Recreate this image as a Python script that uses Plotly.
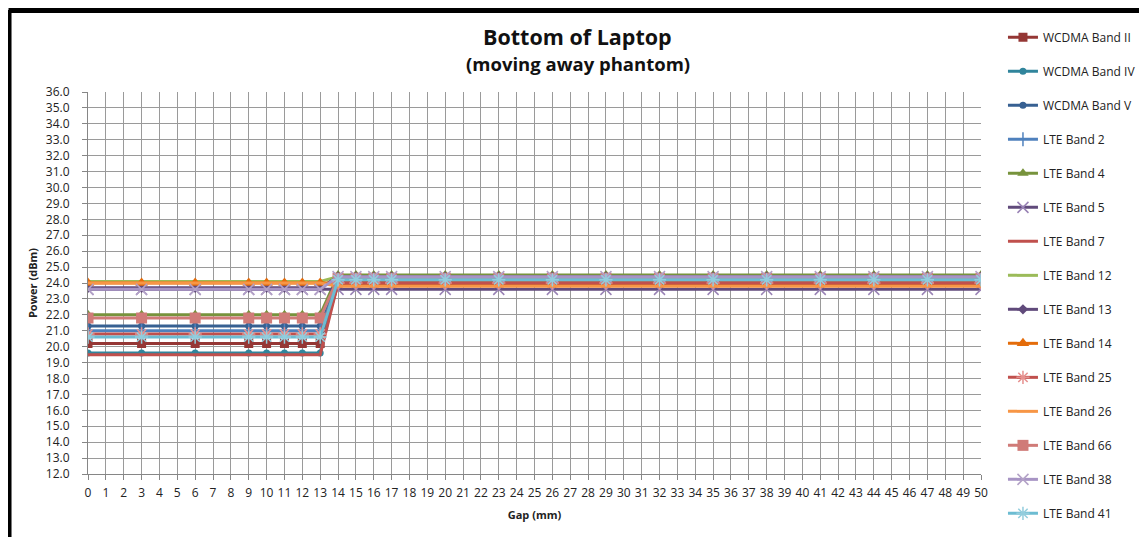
import plotly.graph_objects as go

gap = [0, 3, 6, 9, 10, 11, 12, 13, 14, 15, 16, 17, 20, 23, 26, 29, 32, 35, 38, 41, 44, 47, 50]

wcdma_b2 = [20.2, 20.2, 20.2, 20.2, 20.2, 20.2, 20.2, 20.2, 23.9, 23.9, 23.9, 23.9, 23.9, 23.9, 23.9, 23.9, 23.9, 23.9, 23.9, 23.9, 23.9, 23.9, 23.9]
wcdma_b4 = [19.6, 19.6, 19.6, 19.6, 19.6, 19.6, 19.6, 19.6, 24.2, 24.2, 24.2, 24.2, 24.2, 24.2, 24.2, 24.2, 24.2, 24.2, 24.2, 24.2, 24.2, 24.2, 24.2]
wcdma_b5 = [21.3, 21.3, 21.3, 21.3, 21.3, 21.3, 21.3, 21.3, 24.1, 24.1, 24.1, 24.1, 24.1, 24.1, 24.1, 24.1, 24.1, 24.1, 24.1, 24.1, 24.1, 24.1, 24.1]
lte_b2 = [21.0, 21.0, 21.0, 21.0, 21.0, 21.0, 21.0, 21.0, 24.1, 24.1, 24.1, 24.1, 24.1, 24.1, 24.1, 24.1, 24.1, 24.1, 24.1, 24.1, 24.1, 24.1, 24.1]
lte_b4 = [22.0, 22.0, 22.0, 22.0, 22.0, 22.0, 22.0, 22.0, 24.5, 24.5, 24.5, 24.5, 24.5, 24.5, 24.5, 24.5, 24.5, 24.5, 24.5, 24.5, 24.5, 24.5, 24.5]
lte_b5 = [23.6, 23.6, 23.6, 23.6, 23.6, 23.6, 23.6, 23.6, 23.6, 23.6, 23.6, 23.6, 23.6, 23.6, 23.6, 23.6, 23.6, 23.6, 23.6, 23.6, 23.6, 23.6, 23.6]
lte_b7 = [19.5, 19.5, 19.5, 19.5, 19.5, 19.5, 19.5, 19.5, 24.0, 24.0, 24.0, 24.0, 24.0, 24.0, 24.0, 24.0, 24.0, 24.0, 24.0, 24.0, 24.0, 24.0, 24.0]
lte_b12 = [24.1, 24.1, 24.1, 24.1, 24.1, 24.1, 24.1, 24.1, 24.4, 24.4, 24.4, 24.4, 24.4, 24.4, 24.4, 24.4, 24.4, 24.4, 24.4, 24.4, 24.4, 24.4, 24.4]
lte_b13 = [23.7, 23.7, 23.7, 23.7, 23.7, 23.7, 23.7, 23.7, 24.4, 24.4, 24.4, 24.4, 24.4, 24.4, 24.4, 24.4, 24.4, 24.4, 24.4, 24.4, 24.4, 24.4, 24.4]
lte_b14 = [24.0, 24.0, 24.0, 24.0, 24.0, 24.0, 24.0, 24.0, 24.0, 24.0, 24.0, 24.0, 24.0, 24.0, 24.0, 24.0, 24.0, 24.0, 24.0, 24.0, 24.0, 24.0, 24.0]
lte_b25 = [20.8, 20.8, 20.8, 20.8, 20.8, 20.8, 20.8, 20.8, 24.0, 24.0, 24.0, 24.0, 24.0, 24.0, 24.0, 24.0, 24.0, 24.0, 24.0, 24.0, 24.0, 24.0, 24.0]
lte_b26 = [24.0, 24.0, 24.0, 24.0, 24.0, 24.0, 24.0, 24.0, 23.8, 23.8, 23.8, 23.8, 23.8, 23.8, 23.8, 23.8, 23.8, 23.8, 23.8, 23.8, 23.8, 23.8, 23.8]
lte_b66 = [21.8, 21.8, 21.8, 21.8, 21.8, 21.8, 21.8, 21.8, 24.3, 24.3, 24.3, 24.3, 24.3, 24.3, 24.3, 24.3, 24.3, 24.3, 24.3, 24.3, 24.3, 24.3, 24.3]
lte_b38 = [23.6, 23.6, 23.6, 23.6, 23.6, 23.6, 23.6, 23.6, 24.4, 24.4, 24.4, 24.4, 24.4, 24.4, 24.4, 24.4, 24.4, 24.4, 24.4, 24.4, 24.4, 24.4, 24.4]
lte_b41 = [20.6, 20.6, 20.6, 20.6, 20.6, 20.6, 20.6, 20.6, 24.2, 24.2, 24.2, 24.2, 24.2, 24.2, 24.2, 24.2, 24.2, 24.2, 24.2, 24.2, 24.2, 24.2, 24.2]

x_ticks = list(range(0, 51))
y_ticks = [12.0 + i for i in range(25)]

series = [
    ("WCDMA Band II", wcdma_b2, "#953735", "square", 9, "#953735"),
    ("WCDMA Band IV", wcdma_b4, "#31859C", "circle", 7, "#31859C"),
    ("WCDMA Band V", wcdma_b5, "#376092", "circle", 7, "#376092"),
    ("LTE Band 2", lte_b2, "#4F81BD", "cross-thin", 10, "#4F81BD"),
    ("LTE Band 4", lte_b4, "#77933C", "triangle-up", 10, "#77933C"),
    ("LTE Band 5", lte_b5, "#604A7B", "x-thin", 11, "#9983B5"),
    ("LTE Band 7", lte_b7, "#C0504D", None, 0, None),
    ("LTE Band 12", lte_b12, "#9BBB59", None, 0, None),
    ("LTE Band 13", lte_b13, "#604A7B", "diamond", 8, "#604A7B"),
    ("LTE Band 14", lte_b14, "#E46C0A", "triangle-up", 11, "#E46C0A"),
    ("LTE Band 25", lte_b25, "#C0504D", "asterisk-open", 11, "#E6908E"),
    ("LTE Band 26", lte_b26, "#F79646", None, 0, None),
    ("LTE Band 66", lte_b66, "#D07B78", "square", 11, "#D07B78"),
    ("LTE Band 38", lte_b38, "#A794C4", "x-thin", 11, "#B3A2C7"),
    ("LTE Band 41", lte_b41, "#6CBCD2", "asterisk-open", 11, "#93CDDD"),
]

fig = go.Figure()
for i, (name, vals, color, sym, size, mcol) in enumerate(series):
    if sym is None:
        mode = "lines"
        marker = None
    else:
        mode = "lines+markers"
        if sym in ("cross-thin", "x-thin", "asterisk-open"):
            marker = dict(symbol=sym, size=size, color=mcol, line=dict(color=mcol, width=1.5))
        else:
            marker = dict(symbol=sym, size=size, color=mcol, line=dict(width=0))
    fig.add_trace(go.Scatter(
        x=gap, y=vals, name=name, mode=mode,
        line=dict(color=color, width=3),
        marker=marker,
        legendgroup=f"g{i}",
    ))

font = "Open Sans"
W, H = 1147, 529
L, T, B = 80, 84, 62.5
PR = 973
fig.update_layout(
    width=W, height=H,
    margin=dict(l=L, r=W - PR, t=T, b=B, autoexpand=False, pad=0),
    paper_bgcolor="white", plot_bgcolor="white",
    font=dict(family=font, size=12, color="#222"),
    showlegend=True,
    legend=dict(
        x=1.0246, y=1.181, xanchor="left", yanchor="top",
        font=dict(family=font, size=12, color="#222"),
        itemwidth=30, tracegroupgap=15, traceorder="grouped",
        bgcolor="rgba(0,0,0,0)", maxheight=1.0,
    ),
    xaxis=dict(
        range=[0, 50], tickmode="array", tickvals=x_ticks, ticktext=[str(v) for v in x_ticks],
        showgrid=True, gridcolor="#9a9a9a", gridwidth=1,
        showline=True, linecolor="#868686", linewidth=1,
        ticks="outside", ticklen=5, tickcolor="#868686", ticklabelstandoff=3,
        tickfont=dict(family=font, size=12, color="#222"),
        title=dict(text="<b>Gap (mm)</b>", font=dict(family=font, size=11, color="#222"), standoff=10),
        zeroline=False,
    ),
    yaxis=dict(
        range=[12, 36], tickmode="array", tickvals=y_ticks, ticktext=[f"{v:.1f}" for v in y_ticks],
        showgrid=True, gridcolor="#9a9a9a", gridwidth=1,
        showline=True, linecolor="#868686", linewidth=1,
        ticks="outside", ticklen=5, tickcolor="#868686", ticklabelstandoff=10,
        tickfont=dict(family=font, size=12, color="#222"),
        title=dict(text="<b>Power (dBm)</b>", font=dict(family=font, size=11, color="#222"), standoff=5),
        zeroline=False,
    ),
    annotations=[
        dict(text="<b>Bottom of Laptop</b>", xref="paper", yref="paper", x=0.5487, y=1.145,
             xanchor="center", yanchor="middle", showarrow=False,
             font=dict(family=font, size=21.5, color="#111")),
        dict(text="<b>(moving away phantom)</b>", xref="paper", yref="paper", x=0.5487, y=1.074,
             xanchor="center", yanchor="middle", showarrow=False,
             font=dict(family=font, size=18.5, color="#111")),
    ],
    shapes=[
        dict(type="line", xref="paper", yref="paper", x0=-0.089, x1=1.3, y0=1.2144, y1=1.2144,
             line=dict(color="black", width=6)),
        dict(type="line", xref="paper", yref="paper", x0=-0.089, x1=-0.089, y0=1.2144, y1=-0.2,
             line=dict(color="black", width=6)),
    ],
)

fig.write_html("out.html")
